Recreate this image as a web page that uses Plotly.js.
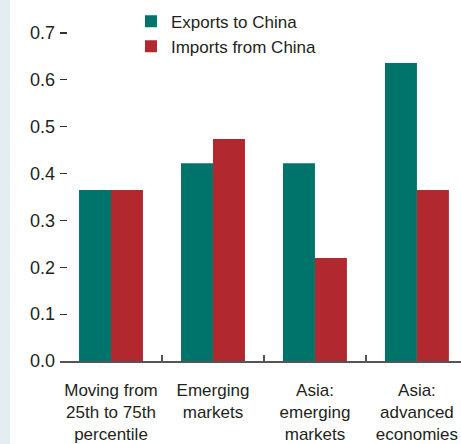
<!DOCTYPE html>
<html>
<head>
<meta charset="utf-8">
<script src="https://cdn.plot.ly/plotly-3.0.1.min.js"></script>
<style>
  html, body { margin: 0; padding: 0; }
  body { background: linear-gradient(to right, #e2eef0 10px, #ffffff 10px); }
  #chart { width: 461px; height: 444px; }
</style>
</head>
<body>
<div id="chart"></div>
<script>
// categories and values
const categories = [
    'Moving from<br>25th to 75th<br>percentile',
    'Emerging<br>markets',
    'Asia:<br>emerging<br>markets',
    'Asia:<br>advanced<br>economies'
]
const exportsToChina = [0.365, 0.422, 0.422, 0.636]
const importsFromChina = [0.365, 0.474, 0.22, 0.365]

const fontFamily = '"Liberation Sans", Arial, sans-serif'
const textColor = '#231f20'

const data = [
    {
        type: 'bar',
        x: categories,
        y: exportsToChina,
        name: 'Exports to China',
        marker: { color: '#00746a' }
    },
    {
        type: 'bar',
        x: categories,
        y: importsFromChina,
        name: 'Imports from China',
        marker: { color: '#b1282e' }
    }
]

const layout = {
    width: 461,
    height: 444,
    margin: { l: 60, r: 0, t: 0, b: 83 },
    paper_bgcolor: 'rgba(0,0,0,0)',
    plot_bgcolor: '#ffffff',
    font: { family: fontFamily, size: 17, color: textColor },
    barmode: 'group',
    bargap: 0.373,
    bargroupgap: 0,
    xaxis: {
        type: 'category',
        range: [-0.5, 3.432],
        tickson: 'boundaries',
        tickangle: 0,
        ticks: 'inside',
        ticklen: 6,
        tickwidth: 1.5,
        tickcolor: '#555555',
        showline: true,
        linecolor: '#555555',
        linewidth: 1.5,
        showgrid: false,
        ticklabelstandoff: 13,
        tickfont: { size: 17 }
    },
    yaxis: {
        range: [0, 0.7704],
        dtick: 0.1,
        tick0: 0,
        tickformat: '.1f',
        ticks: 'inside',
        ticklen: 7,
        tickwidth: 1.2,
        tickcolor: '#333333',
        showline: false,
        zeroline: false,
        showgrid: false,
        ticklabelstandoff: 4,
        tickfont: { size: 18 }
    },
    legend: {
        x: 0.177,
        y: 0.99,
        xanchor: 'left',
        yanchor: 'top',
        bgcolor: 'rgba(0,0,0,0)',
        font: { size: 17 }
    },
    showlegend: true
}

Plotly.newPlot('chart', data, layout, { displayModeBar: false, staticPlot: true })
</script>
</body>
</html>
